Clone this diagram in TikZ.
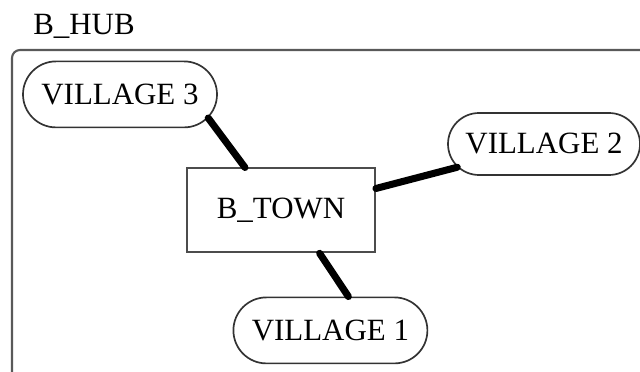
\documentclass[tikz,border=0pt]{standalone}
\usepackage{fontspec}
\setmainfont{Liberation Serif}
\usetikzlibrary{shapes.misc}

\begin{document}
\begin{tikzpicture}[
    font=\fontsize{22}{26}\selectfont,
    village/.style={rounded rectangle, draw=black!80, line width=1.2pt, minimum width=4.85cm, minimum height=1.65cm, inner sep=0pt},
    town/.style={rectangle, draw=black!70, line width=1.3pt, minimum width=4.7cm, minimum height=2.1cm},
    link/.style={line width=5pt, line cap=round}
  ]

  \useasboundingbox (0,0) rectangle (16,9.3);
  \clip (0,0) rectangle (16,9.3);

  \node[anchor=base] (hub) at (2.1,8.425) {B\_HUB};
  \draw[black!65, line width=1.5pt, rounded corners=0.2cm] (0.3,-1) |- (17,8.05);

  \node[town] (btown) at (7.025,4.04) {B\_TOWN};
  \node[village] (v3) at (3.0,6.94) {VILLAGE 3};
  \node[village, minimum width=4.8cm, minimum height=1.55cm] (v2) at (13.6,5.7) {VILLAGE 2};
  \node[village] (v1) at (8.26,1.04) {VILLAGE 1};

  \foreach \a/\b in {v3.-15/btown.130, btown.13/v2.-165, btown.-48/v1.62}{
    \draw[link] (\a) -- (\b);
  }

\end{tikzpicture}
\end{document}
